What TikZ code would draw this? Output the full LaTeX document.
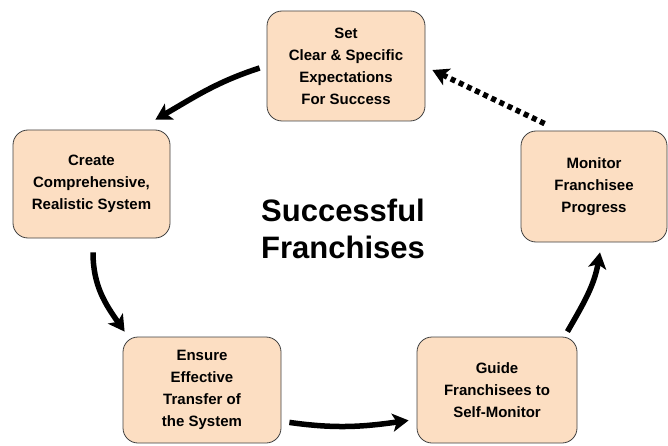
\documentclass[tikz,border=0pt]{standalone}
\usepackage{fontspec}
\setmainfont{Liberation Sans}
\usetikzlibrary{arrows.meta}
\definecolor{peach}{RGB}{252,222,194}

\begin{document}
\begin{tikzpicture}[x=1pt,y=1pt,
  stage/.style={draw=black!75,line width=0.8pt,fill=peach,rounded corners=15pt,
    align=center,font=\bfseries\fontsize{15}{22}\selectfont,inner sep=0pt,
    minimum width=158pt,minimum height=110pt},
  flow/.style={line width=5.5pt,-{Stealth[length=16pt,width=18pt,inset=4pt]}},
  feedback/.style={flow,dash pattern=on 5pt off 4pt}]
\useasboundingbox (0,0) rectangle (668,445);

% Cycle steps
\node[stage] (set) at (346,379) {Set\\Clear \& Specific\\Expectations\\For Success};
\node[stage,minimum width=157pt,minimum height=108pt] (create) at (91.5,261)
  {Create\\Comprehensive,\\Realistic System};
\node[stage,minimum height=106pt] (ensure) at (202,55)
  {Ensure\\Effective\\Transfer of\\the System};
\node[stage,minimum width=160pt,minimum height=106pt] (guide) at (497,55)
  {Guide\\Franchisees to\\Self-Monitor};
\node[stage,minimum width=146pt,minimum height=111pt] (monitor) at (594,258.5)
  {Monitor\\Franchisee\\Progress};

% Centre title
\node[align=center,font=\bfseries\fontsize{31}{37}\selectfont] (title) at (343,216)
  {Successful\\Franchises};

% Arrows round the cycle
\draw[flow] ([shift={(-7,-2)}]set.west) to[out=198,in=30]
  ([shift={(-15,10)}]create.north east);
\draw[flow] ([shift={(1.5,-14)}]create.south) to[out=270,in=125]
  ([shift={(2,5)}]ensure.north west);
\draw[flow] ([shift={(8,21)}]ensure.south east) to[out=-8,in=188]
  ([shift={(-8,23)}]guide.south west);
\draw[flow] ([shift={(-10,5)}]guide.north east) to[out=60,in=260]
  ([shift={(6,-10)}]monitor.south);
\draw[feedback] ([shift={(24,7)}]monitor.north west) -- ([shift={(7,-4)}]set.east);
\end{tikzpicture}
\end{document}
